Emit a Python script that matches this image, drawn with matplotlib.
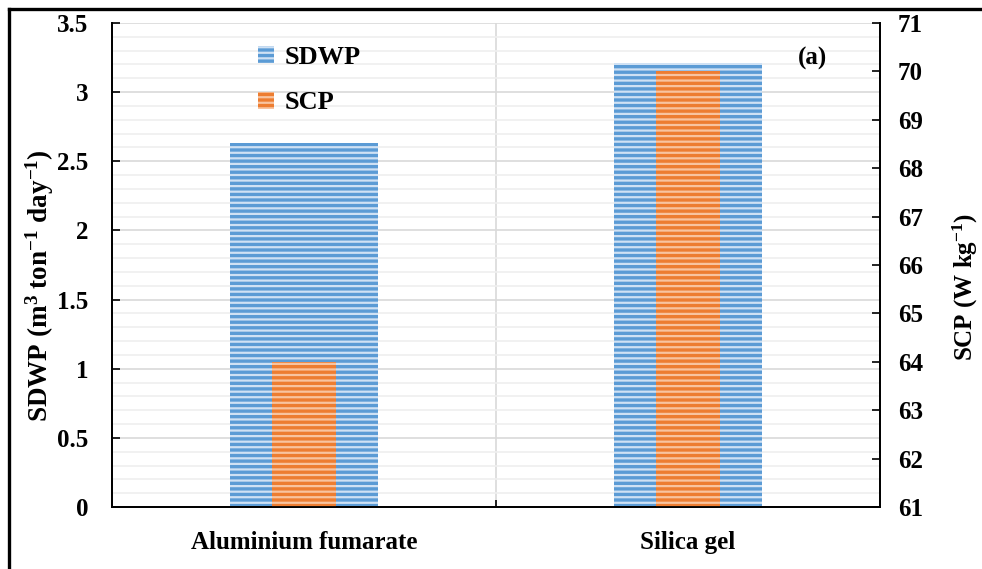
import matplotlib
matplotlib.use("Agg")
import matplotlib.pyplot as plt
from matplotlib.patches import Patch
from matplotlib.lines import Line2D
import numpy as np

categories = ["Aluminium fumarate", "Silica gel"]
sdwp = [2.63, 3.21]
scp = [64.0, 70.0]

plt.rcParams['font.family'] = ['Liberation Serif', 'DejaVu Serif']
plt.rcParams['font.weight'] = 'bold'
plt.rcParams['mathtext.fontset'] = 'custom'
plt.rcParams['mathtext.rm'] = 'Liberation Serif:bold'
plt.rcParams['mathtext.it'] = 'Liberation Serif:bold'
plt.rcParams['mathtext.bf'] = 'Liberation Serif:bold'
plt.rcParams['mathtext.default'] = 'rm'
plt.rcParams['hatch.linewidth'] = 1.6

FS = 18

W, H = 982, 569
fig = plt.figure(figsize=(W / 100, H / 100), dpi=100)
L, R, T, B = 112, 880, 23, 507
ax = fig.add_axes([L / W, 1 - B / H, (R - L) / W, (B - T) / H])
ax2 = ax.twinx()

blue, blue_h = '#5B9BD5', '#cfe1f4'
orange, orange_h = '#ED7D31', '#f8c4a0'

x = np.arange(len(categories))
w1, w2 = 0.385, 0.167
ax.bar(x, sdwp, width=w1, color=blue, edgecolor='none', zorder=2)
ax.bar(x, sdwp, width=w1, color='none', edgecolor=blue_h, hatch='---', linewidth=0, zorder=2)
ax2.bar(x, scp, width=w2, color=orange, edgecolor='none', zorder=2)
ax2.bar(x, scp, width=w2, color='none', edgecolor=orange_h, hatch='---', linewidth=0, zorder=2)

ax.set_xlim(-0.5, 1.5)
ax.set_ylim(0, 3.5)
ax2.set_ylim(61, 71)
ax.set_yticks(np.arange(0, 3.51, 0.5))
ax.set_yticklabels(['0', '0.5', '1', '1.5', '2', '2.5', '3', '3.5'])
ax.set_yticks(np.arange(0, 3.51, 0.1), minor=True)
ax2.set_yticks(np.arange(61, 71.1, 1))

ax.grid(axis='y', which='minor', color='#efefef', linewidth=1.2, zorder=0)
ax.grid(axis='y', which='major', color='#d9d9d9', linewidth=1.2, zorder=0)
ax.set_axisbelow(True)
ax.axvline(0.5, color='#d9d9d9', linewidth=1.2, zorder=0)

ax.set_xticks(x)
ax.set_xticklabels(categories)
ax.set_xticks([0.5], minor=True)
ax.tick_params(axis='x', which='major', length=0, pad=17, labelsize=FS)
ax.tick_params(axis='x', which='minor', direction='in', length=5, width=1.2)
ax.tick_params(axis='y', which='major', direction='in', length=6, width=1.2, pad=17, labelsize=FS)
ax.tick_params(axis='y', which='minor', length=0)
ax2.tick_params(axis='y', which='major', direction='in', length=6, width=1.2, pad=13, labelsize=FS)

for a in (ax, ax2):
    a.spines['top'].set_visible(False)
    for s in ('left', 'right', 'bottom'):
        a.spines[s].set_linewidth(1.3)
        a.spines[s].set_color('black')

fig.text(40 / W, 1 - 286 / H, 'SDWP (m$^{3}$ ton$^{-1}$ day$^{-1}$)', rotation=90,
         ha='center', va='center', fontsize=19.5, fontweight='bold')
fig.text(965 / W, 1 - 287 / H, 'SCP (W kg$^{-1}$)', rotation=90,
         ha='center', va='center', fontsize=FS, fontweight='bold')

handles = [Patch(facecolor=blue, edgecolor=blue_h, hatch='---', linewidth=0, label='SDWP'),
           Patch(facecolor=orange, edgecolor=orange_h, hatch='---', linewidth=0, label='SCP')]
ax.legend(handles=handles, loc='upper left', bbox_to_anchor=((258 - L) / (R - L), 1 - (46 - T) / (B - T)),
          frameon=False, fontsize=FS + 1, handlelength=0.6, handleheight=0.6, handletextpad=0.4,
          labelspacing=0.85, borderpad=0, borderaxespad=0)

ax.text((798 - L) / (R - L), 1 - (58 - T) / (B - T), '(a)', transform=ax.transAxes,
        ha='left', va='center', fontsize=FS, fontweight='bold')

# figure frame (left and top)
fig.add_artist(Line2D([9 / W, 9 / W], [0, 1 - 9 / H], transform=fig.transFigure, color='black', linewidth=2.4))
fig.add_artist(Line2D([9 / W, 1], [1 - 9 / H, 1 - 9 / H], transform=fig.transFigure, color='black', linewidth=2.4))

fig.savefig('out.png', dpi=100)
